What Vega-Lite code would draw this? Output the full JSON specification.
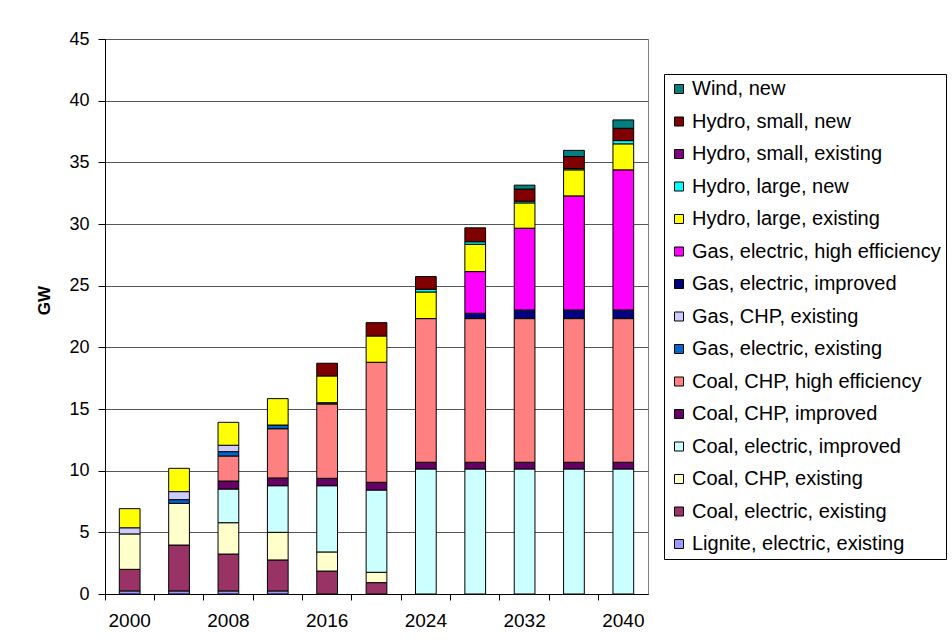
{
  "$schema": "https://vega.github.io/schema/vega-lite/v6.json",
  "width": 543,
  "height": 555,
  "autosize": {"type": "none"},
  "padding": {"left": 105, "top": 39, "right": 304, "bottom": 50},
  "background": "white",
  "config": {
    "font": "Liberation Sans",
    "view": {"stroke": "#808080", "strokeWidth": 1}
  },
  "data": {
    "values": [
      {"year": 2000, "source": "Lignite, electric, existing", "gw": 0.25},
      {"year": 2000, "source": "Coal, electric, existing", "gw": 1.75},
      {"year": 2000, "source": "Coal, CHP, existing", "gw": 2.87},
      {"year": 2000, "source": "Gas, CHP, existing", "gw": 0.5},
      {"year": 2000, "source": "Hydro, large, existing", "gw": 1.55},

      {"year": 2004, "source": "Lignite, electric, existing", "gw": 0.25},
      {"year": 2004, "source": "Coal, electric, existing", "gw": 3.72},
      {"year": 2004, "source": "Coal, CHP, existing", "gw": 3.38},
      {"year": 2004, "source": "Gas, electric, existing", "gw": 0.3},
      {"year": 2004, "source": "Gas, CHP, existing", "gw": 0.65},
      {"year": 2004, "source": "Hydro, large, existing", "gw": 1.89},

      {"year": 2008, "source": "Lignite, electric, existing", "gw": 0.25},
      {"year": 2008, "source": "Coal, electric, existing", "gw": 2.99},
      {"year": 2008, "source": "Coal, CHP, existing", "gw": 2.54},
      {"year": 2008, "source": "Coal, electric, improved", "gw": 2.73},
      {"year": 2008, "source": "Coal, CHP, improved", "gw": 0.65},
      {"year": 2008, "source": "Coal, CHP, high efficiency", "gw": 2.03},
      {"year": 2008, "source": "Gas, electric, existing", "gw": 0.35},
      {"year": 2008, "source": "Gas, CHP, existing", "gw": 0.52},
      {"year": 2008, "source": "Hydro, large, existing", "gw": 1.86},

      {"year": 2012, "source": "Lignite, electric, existing", "gw": 0.25},
      {"year": 2012, "source": "Coal, electric, existing", "gw": 2.51},
      {"year": 2012, "source": "Coal, CHP, existing", "gw": 2.24},
      {"year": 2012, "source": "Coal, electric, improved", "gw": 3.78},
      {"year": 2012, "source": "Coal, CHP, improved", "gw": 0.63},
      {"year": 2012, "source": "Coal, CHP, high efficiency", "gw": 3.99},
      {"year": 2012, "source": "Gas, electric, existing", "gw": 0.3},
      {"year": 2012, "source": "Hydro, large, existing", "gw": 2.14},

      {"year": 2016, "source": "Coal, electric, existing", "gw": 1.86},
      {"year": 2016, "source": "Coal, CHP, existing", "gw": 1.55},
      {"year": 2016, "source": "Coal, electric, improved", "gw": 5.37},
      {"year": 2016, "source": "Coal, CHP, improved", "gw": 0.6},
      {"year": 2016, "source": "Coal, CHP, high efficiency", "gw": 6.03},
      {"year": 2016, "source": "Gas, electric, existing", "gw": 0.1},
      {"year": 2016, "source": "Hydro, large, existing", "gw": 2.17},
      {"year": 2016, "source": "Hydro, small, new", "gw": 1.03},

      {"year": 2020, "source": "Coal, electric, existing", "gw": 0.92},
      {"year": 2020, "source": "Coal, CHP, existing", "gw": 0.84},
      {"year": 2020, "source": "Coal, electric, improved", "gw": 6.67},
      {"year": 2020, "source": "Coal, CHP, improved", "gw": 0.63},
      {"year": 2020, "source": "Coal, CHP, high efficiency", "gw": 9.73},
      {"year": 2020, "source": "Hydro, large, existing", "gw": 2.13},
      {"year": 2020, "source": "Hydro, small, new", "gw": 1.08},

      {"year": 2024, "source": "Coal, electric, improved", "gw": 10.14},
      {"year": 2024, "source": "Coal, CHP, improved", "gw": 0.54},
      {"year": 2024, "source": "Coal, CHP, high efficiency", "gw": 11.65},
      {"year": 2024, "source": "Hydro, large, existing", "gw": 2.16},
      {"year": 2024, "source": "Hydro, large, new", "gw": 0.22},
      {"year": 2024, "source": "Hydro, small, new", "gw": 1.03},

      {"year": 2028, "source": "Coal, electric, improved", "gw": 10.14},
      {"year": 2028, "source": "Coal, CHP, improved", "gw": 0.54},
      {"year": 2028, "source": "Coal, CHP, high efficiency", "gw": 11.65},
      {"year": 2028, "source": "Gas, electric, improved", "gw": 0.43},
      {"year": 2028, "source": "Gas, electric, high efficiency", "gw": 3.38},
      {"year": 2028, "source": "Hydro, large, existing", "gw": 2.22},
      {"year": 2028, "source": "Hydro, large, new", "gw": 0.2},
      {"year": 2028, "source": "Hydro, small, new", "gw": 1.13},

      {"year": 2032, "source": "Coal, electric, improved", "gw": 10.14},
      {"year": 2032, "source": "Coal, CHP, improved", "gw": 0.54},
      {"year": 2032, "source": "Coal, CHP, high efficiency", "gw": 11.65},
      {"year": 2032, "source": "Gas, electric, improved", "gw": 0.7},
      {"year": 2032, "source": "Gas, electric, high efficiency", "gw": 6.63},
      {"year": 2032, "source": "Hydro, large, existing", "gw": 2.05},
      {"year": 2032, "source": "Hydro, large, new", "gw": 0.14},
      {"year": 2032, "source": "Hydro, small, new", "gw": 0.98},
      {"year": 2032, "source": "Wind, new", "gw": 0.32},

      {"year": 2036, "source": "Coal, electric, improved", "gw": 10.14},
      {"year": 2036, "source": "Coal, CHP, improved", "gw": 0.54},
      {"year": 2036, "source": "Coal, CHP, high efficiency", "gw": 11.65},
      {"year": 2036, "source": "Gas, electric, improved", "gw": 0.7},
      {"year": 2036, "source": "Gas, electric, high efficiency", "gw": 9.25},
      {"year": 2036, "source": "Hydro, large, existing", "gw": 2.11},
      {"year": 2036, "source": "Hydro, large, new", "gw": 0.1},
      {"year": 2036, "source": "Hydro, small, new", "gw": 0.98},
      {"year": 2036, "source": "Wind, new", "gw": 0.5},

      {"year": 2040, "source": "Coal, electric, improved", "gw": 10.14},
      {"year": 2040, "source": "Coal, CHP, improved", "gw": 0.54},
      {"year": 2040, "source": "Coal, CHP, high efficiency", "gw": 11.65},
      {"year": 2040, "source": "Gas, electric, improved", "gw": 0.7},
      {"year": 2040, "source": "Gas, electric, high efficiency", "gw": 11.36},
      {"year": 2040, "source": "Hydro, large, existing", "gw": 2.11},
      {"year": 2040, "source": "Hydro, large, new", "gw": 0.26},
      {"year": 2040, "source": "Hydro, small, new", "gw": 1.0},
      {"year": 2040, "source": "Wind, new", "gw": 0.68}
    ]
  },
  "transform": [
    {
      "calculate": "indexof(['Lignite, electric, existing', 'Coal, electric, existing', 'Coal, CHP, existing', 'Coal, electric, improved', 'Coal, CHP, improved', 'Coal, CHP, high efficiency', 'Gas, electric, existing', 'Gas, CHP, existing', 'Gas, electric, improved', 'Gas, electric, high efficiency', 'Hydro, large, existing', 'Hydro, large, new', 'Hydro, small, existing', 'Hydro, small, new', 'Wind, new'], datum.source)",
      "as": "stackRank"
    }
  ],
  "mark": {"type": "bar", "width": {"band": 0.42}, "stroke": "black", "strokeWidth": 1},
  "encoding": {
    "x": {
      "field": "year",
      "type": "ordinal",
      "scale": {"paddingInner": 0, "paddingOuter": 0},
      "axis": {
        "title": null,
        "bandPosition": 0,
        "grid": false,
        "labelAngle": 0,
        "labelExpr": "indexof(['2000', '2008', '2016', '2024', '2032', '2040'], datum.label) >= 0 ? datum.label : ''",
        "labelOverlap": false,
        "labelFontSize": 19,
        "labelColor": "black",
        "labelPadding": 11,
        "tickSize": 6,
        "tickColor": "black",
        "domainColor": "black"
      }
    },
    "y": {
      "field": "gw",
      "type": "quantitative",
      "stack": "zero",
      "scale": {"domain": [0, 45], "nice": false},
      "axis": {
        "title": "GW",
        "values": [0, 5, 10, 15, 20, 25, 30, 35, 40, 45],
        "grid": true,
        "gridColor": "#555555",
        "gridWidth": 1,
        "labelFontSize": 18,
        "labelColor": "black",
        "labelPadding": 9,
        "tickSize": 7,
        "tickColor": "black",
        "domainColor": "black",
        "titleFontSize": 17,
        "titleFontWeight": "bold",
        "titleColor": "black",
        "titleX": -52,
        "titleY": 261
      }
    },
    "color": {
      "field": "source",
      "type": "nominal",
      "scale": {
        "domain": [
          "Wind, new",
          "Hydro, small, new",
          "Hydro, small, existing",
          "Hydro, large, new",
          "Hydro, large, existing",
          "Gas, electric, high efficiency",
          "Gas, electric, improved",
          "Gas, CHP, existing",
          "Gas, electric, existing",
          "Coal, CHP, high efficiency",
          "Coal, CHP, improved",
          "Coal, electric, improved",
          "Coal, CHP, existing",
          "Coal, electric, existing",
          "Lignite, electric, existing"
        ],
        "range": [
          "#008080",
          "#800000",
          "#800080",
          "#00FFFF",
          "#FFFF00",
          "#FF00FF",
          "#000080",
          "#CCCCFF",
          "#0066CC",
          "#FF8080",
          "#660066",
          "#CCFFFF",
          "#FFFFCC",
          "#993366",
          "#9999FF"
        ]
      },
      "legend": {
        "title": null,
        "orient": "none",
        "legendX": 559,
        "legendY": 35,
        "symbolType": "square",
        "symbolSize": 81,
        "symbolStrokeColor": "black",
        "symbolStrokeWidth": 1,
        "labelFontSize": 20,
        "labelColor": "black",
        "labelOffset": 3,
        "labelLimit": 400,
        "rowPadding": 12.5,
        "padding": 5,
        "strokeColor": "black",
        "fillColor": "white"
      }
    },
    "order": {"field": "stackRank", "type": "quantitative", "sort": "ascending"}
  }
}
